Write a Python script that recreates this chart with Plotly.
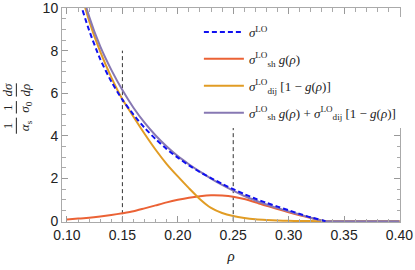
import plotly.graph_objects as go

# ---- data ----
rho = [0.10, 0.11, 0.12, 0.13, 0.14, 0.15, 0.16, 0.17, 0.18, 0.19, 0.20, 0.21,
       0.22, 0.23, 0.24, 0.25, 0.26, 0.27, 0.28, 0.29, 0.30, 0.31, 0.32, 0.3333,
       0.34, 0.35, 0.36, 0.37, 0.38, 0.39, 0.40]

sigma_lo = [12.8, 10.6, 8.95, 7.6, 6.55, 5.7, 5.0, 4.38, 3.85, 3.38, 2.98, 2.62,
            2.3, 2.02, 1.75, 1.5, 1.27, 1.05, 0.86, 0.68, 0.51, 0.34, 0.18, 0.0]

sh_g = [0.08, 0.12, 0.16, 0.22, 0.29, 0.37, 0.46, 0.60, 0.74, 0.88, 1.00, 1.10,
        1.17, 1.21, 1.20, 1.15, 1.04, 0.89, 0.72, 0.57, 0.42, 0.28, 0.15, 0.0,
        0, 0, 0, 0, 0, 0, 0]

dij_1mg = [13.8, 11.3, 9.4, 7.95, 6.75, 5.72, 4.9, 4.1, 3.35, 2.68, 2.1, 1.55,
           1.03, 0.62, 0.38, 0.24, 0.15, 0.09, 0.055, 0.03, 0.015, 0.007, 0.002, 0.0,
           0, 0, 0, 0, 0, 0, 0]

total = [13.9, 11.5, 9.6, 8.2, 7.1, 6.15, 5.32, 4.62, 4.02, 3.5, 3.05, 2.67,
         2.32, 2.0, 1.7, 1.43, 1.18, 0.97, 0.78, 0.61, 0.46, 0.31, 0.16, 0.0,
         0, 0, 0, 0, 0, 0, 0]

vline_x = [0.15, 0.25]
vline_top = 8.0

x_ticks = [0.10, 0.15, 0.20, 0.25, 0.30, 0.35, 0.40]
y_ticks = [0, 2, 4, 6, 8, 10]

labels = [
    "<i>σ</i><sup>LO</sup><sub>&#160;</sub>",
    "<i>σ</i><sup>LO</sup><sub>sh</sub> <i>g</i>(<i>ρ</i>)",
    "<i>σ</i><sup>LO</sup><sub>dij</sub> [1 − <i>g</i>(<i>ρ</i>)]",
    "<i>σ</i><sup>LO</sup><sub>sh</sub> <i>g</i>(<i>ρ</i>) + <i>σ</i><sup>LO</sup><sub>dij</sub> [1 − <i>g</i>(<i>ρ</i>)]",
]

BLUE = "#1010F0"
RED = "#EB6235"
ORANGE = "#E19C24"
PURPLE = "#8778B3"

fig = go.Figure()

for xv in vline_x:
    fig.add_trace(go.Scatter(x=[xv, xv], y=[0, vline_top], mode="lines",
                             line=dict(color="#333333", width=1, dash="4px,3px"),
                             showlegend=False, hoverinfo="skip"))

n = len(sigma_lo)
fig.add_trace(go.Scatter(x=rho, y=sh_g, mode="lines", name=labels[1],
                         line=dict(color=RED, width=2, shape="spline", smoothing=0.6),
                         legendgroup="b", legendrank=2))
fig.add_trace(go.Scatter(x=rho, y=dij_1mg, mode="lines", name=labels[2],
                         line=dict(color=ORANGE, width=2, shape="spline", smoothing=0.6),
                         legendgroup="c", legendrank=3))
fig.add_trace(go.Scatter(x=rho, y=total, mode="lines", name=labels[3],
                         line=dict(color=PURPLE, width=2, shape="spline", smoothing=0.6),
                         legendgroup="d", legendrank=4))
fig.add_trace(go.Scatter(x=rho[:n], y=sigma_lo, mode="lines", name=labels[0],
                         line=dict(color=BLUE, width=2, dash="5px,3px", shape="spline", smoothing=0.6),
                         legendgroup="a", legendrank=1))

axis_common = dict(showgrid=False, zeroline=False, showline=True, linecolor="#aaaaaa",
                   linewidth=1, mirror="allticks", ticks="inside", ticklen=6,
                   tickcolor="#999999", tickwidth=1, automargin=False,
                   ticklabeloverflow="allow",
                   tickfont=dict(family="Liberation Sans, Arial", size=14, color="#222222"))

fig.update_xaxes(range=[0.0955, 0.4005], tickvals=x_ticks, tickformat=".2f",
                 minor=dict(ticks="inside", dtick=0.01, ticklen=3.5, tickcolor="#aaaaaa"),
                 title=dict(text="<i>ρ</i>", font=dict(family="Liberation Serif", size=15, color="#222222"),
                            standoff=8),
                 **axis_common)
fig.update_yaxes(range=[-0.04, 10.002], tickvals=y_ticks,
                 minor=dict(ticks="inside", dtick=0.5, ticklen=3.5, tickcolor="#aaaaaa"),
                 **axis_common)

# y-axis label built as three stacked fractions (rotated)
tf = dict(family="Liberation Serif", size=13, color="#222222")
num_x, bar_x, den_x = -0.161, -0.135, -0.108
fracs = [("1", "<i>α</i><sub>s</sub>", 0.450, 0.075),
         ("1", "<i>σ</i><sub>0</sub>", 0.536, 0.058),
         ("<i>dσ</i>", "<i>dρ</i>", 0.617, 0.062)]
for num, den, yc, half in fracs:
    fig.add_annotation(x=num_x, y=yc, xref="paper", yref="paper", text=num,
                       textangle=-90, showarrow=False, font=tf,
                       xanchor="center", yanchor="middle")
    fig.add_annotation(x=den_x, y=yc, xref="paper", yref="paper", text=den,
                       textangle=-90, showarrow=False, font=tf,
                       xanchor="center", yanchor="middle")
    fig.add_shape(type="line", xref="paper", yref="paper", x0=bar_x, x1=bar_x,
                  y0=yc - half / 2, y1=yc + half / 2,
                  line=dict(color="#222222", width=1))

fig.update_layout(
    width=415, height=270,
    margin=dict(l=62, r=15, t=8, b=48),
    paper_bgcolor="white", plot_bgcolor="white",
    showlegend=True,
    legend=dict(x=0.405, y=0.958, xanchor="left", yanchor="top",
                bgcolor="white", borderwidth=0, traceorder="grouped",
                tracegroupgap=7, itemwidth=40,
                font=dict(family="Liberation Serif", size=13, color="#222222")),
)

fig.write_html("out.html", config={"displayModeBar": False},
               post_script="document.body.style.margin='0';document.body.style.overflow='hidden';")
